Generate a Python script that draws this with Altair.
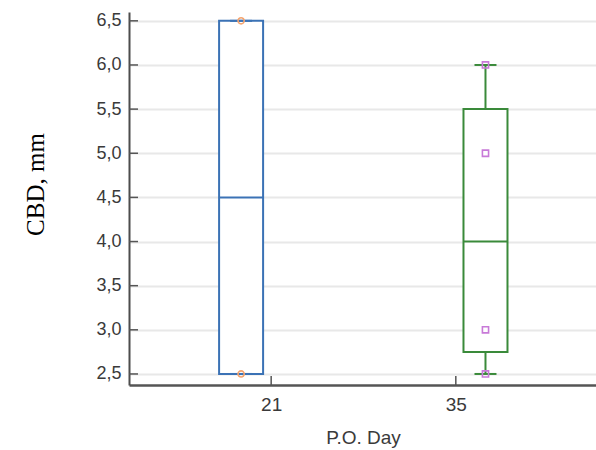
import altair as alt
import pandas as pd

# ---- data ----
groups = ["21", "35"]
group_pos = [18.72, 37.25]        # where each box sits on the P.O. Day axis
q1 = [2.5, 2.75]
median = [4.5, 4.0]
q3 = [6.5, 5.5]
whisk_lo = [2.5, 2.5]
whisk_hi = [6.5, 6.0]

pts_group = ["21", "21", "35", "35", "35", "35"]
pts_value = [6.5, 2.5, 6.0, 5.0, 3.0, 2.5]

day_ticks = [21, 35]
y_ticks = [2.5, 3.0, 3.5, 4.0, 4.5, 5.0, 5.5, 6.0, 6.5]

box_colors = ["#3b72b5", "#3a8a3a"]
pt_colors = ["#f5a46e", "#c87ad8"]
pt_shapes = ["circle", "square"]

# ---- tables ----
pos_of = dict(zip(groups, group_pos))
box_df = pd.DataFrame({"group": groups, "pos": group_pos, "q1": q1, "median": median,
                       "q3": q3, "lo": whisk_lo, "hi": whisk_hi})
pts_df = pd.DataFrame({"group": pts_group, "pos": [pos_of[g] for g in pts_group],
                       "value": pts_value})
xt_df = pd.DataFrame({"pos": day_ticks})
yt_df = pd.DataFrame({"value": y_ticks})

W, H = 467, 373

xscale = alt.Scale(domain=[10.6, 45.25], nice=False, zero=False)
yscale = alt.Scale(domain=[2.375, 6.6], nice=False, zero=False)

xaxis = alt.Axis(values=day_ticks, format="d", title="P.O. Day", grid=False, ticks=False,
                 domainColor="#555555", domainWidth=2.5,
                 labelFont="Liberation Sans", labelFontSize=19, labelColor="#3a3a3a",
                 labelPadding=10,
                 titleFont="Liberation Sans", titleFontSize=19, titleFontWeight="normal",
                 titleColor="#3a3a3a", titleX=234, titleY=52, titleAlign="center",
                 titleBaseline="middle")
yaxis = alt.Axis(values=y_ticks, title="CBD, mm",
                 labelExpr="replace(format(datum.value, '.1f'), '.', ',')",
                 grid=True, gridColor="#e8e8e8", gridWidth=2, ticks=False,
                 domainColor="#4d4d4d", domainWidth=2,
                 labelFont="Liberation Sans", labelFontSize=18, labelColor="#3a3a3a",
                 labelPadding=8,
                 titleFont="Liberation Serif", titleFontSize=25, titleFontWeight="normal",
                 titleColor="#000000", titleAngle=270, titleX=-94, titleY=172,
                 titleAlign="center", titleBaseline="middle")

X = alt.X("pos:Q", scale=xscale, axis=xaxis)
box_color = alt.Color("group:N", scale=alt.Scale(domain=groups, range=box_colors), legend=None)

base = alt.Chart(box_df)

boxes = base.mark_bar(filled=False, fill="white", strokeWidth=2, size=44, opacity=1).encode(
    x=X,
    y=alt.Y("q1:Q", scale=yscale, axis=yaxis),
    y2="q3:Q",
    color=box_color,
)
med = base.mark_tick(orient="horizontal", size=44, thickness=2, filled=True, opacity=1).encode(
    x=X, y=alt.Y("median:Q", scale=yscale, axis=yaxis), color=box_color)
wl = base.mark_rule(strokeWidth=2, opacity=1).encode(
    x=X, y=alt.Y("lo:Q", scale=yscale, axis=yaxis), y2="q1:Q", color=box_color)
wh = base.mark_rule(strokeWidth=2, opacity=1).encode(
    x=X, y=alt.Y("q3:Q", scale=yscale, axis=yaxis), y2="hi:Q", color=box_color)
cap_lo = base.mark_tick(orient="horizontal", size=22, thickness=2, filled=True, opacity=1).encode(
    x=X, y=alt.Y("lo:Q", scale=yscale, axis=yaxis), color=box_color)
cap_hi = base.mark_tick(orient="horizontal", size=22, thickness=2, filled=True, opacity=1).encode(
    x=X, y=alt.Y("hi:Q", scale=yscale, axis=yaxis), color=box_color)

points = alt.Chart(pts_df).mark_point(filled=False, strokeWidth=1.6, size=38, opacity=1).encode(
    x=X,
    y=alt.Y("value:Q", scale=yscale, axis=yaxis),
    stroke=alt.Stroke("group:N", scale=alt.Scale(domain=groups, range=pt_colors), legend=None),
    shape=alt.Shape("group:N", scale=alt.Scale(domain=groups, range=pt_shapes), legend=None),
)

ytick_marks = alt.Chart(yt_df).mark_rule(color="#555555", strokeWidth=1.5).encode(
    y=alt.Y("value:Q", scale=yscale, axis=yaxis), x=alt.value(0), x2=alt.value(9))
xtick_marks = alt.Chart(xt_df).mark_rule(color="#555555", strokeWidth=1.5).encode(
    x=X, y=alt.value(H - 9), y2=alt.value(H))

chart = alt.layer(boxes, med, wl, wh, cap_lo, cap_hi, points, ytick_marks, xtick_marks).properties(
    width=W, height=H,
    autosize=alt.AutoSizeParams(type="none"),
    padding={"left": 129, "top": 12, "right": 0, "bottom": 65},
    background="white",
).configure_view(stroke=None)

chart.save("out.html", embed_options={"renderer": "svg", "actions": False})
